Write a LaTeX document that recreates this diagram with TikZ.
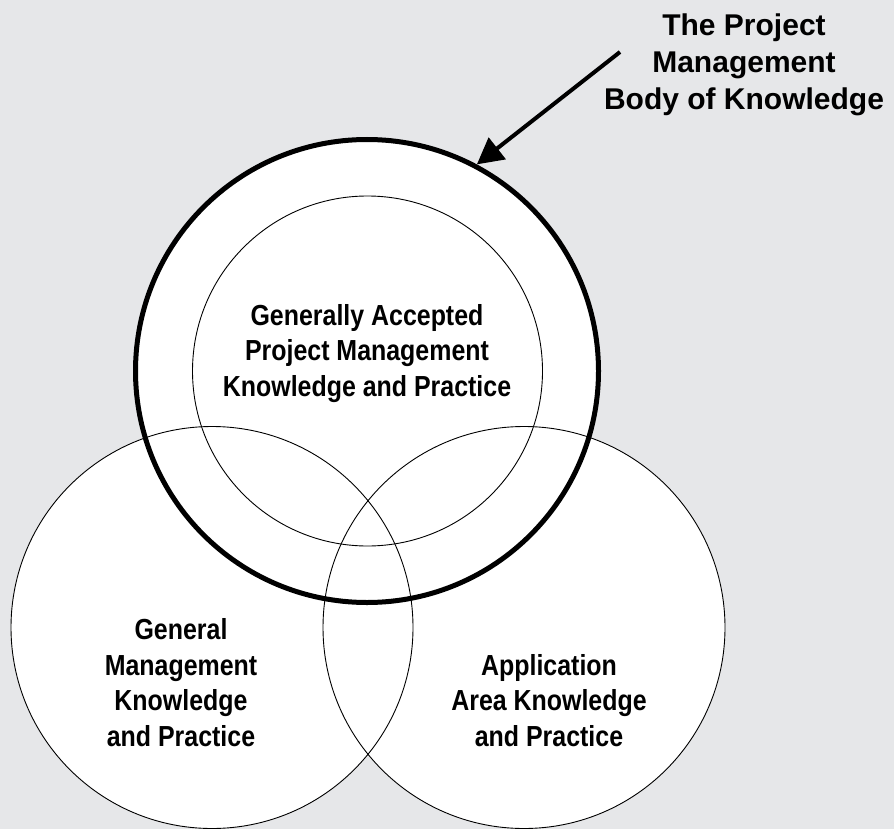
\documentclass[tikz,border=0pt]{standalone}
\usepackage{fontspec}
\setmainfont{Liberation Sans}
\newfontfamily\condfont{Liberation Sans Bold}[FakeStretch=0.86]
\newfontfamily\labelfont{Liberation Sans Bold}
\usetikzlibrary{arrows.meta}
\definecolor{bgcol}{HTML}{E6E7E9}
\begin{document}
\begin{tikzpicture}[x=1pt,y=-1pt,
  ring/.style={circle, draw=black, inner sep=0pt, outer sep=0pt, line width=0.9pt},
  bigring/.style={circle, draw=black, inner sep=0pt, line width=5pt},
  condtext/.style={align=center, inner sep=0pt, font=\condfont\fontsize{29}{35.5}\selectfont},
  labeltext/.style={align=center, inner sep=0pt, font=\labelfont\fontsize{30}{37}\selectfont},
  pointer/.style={line width=4pt, -{Triangle[length=26pt,width=27pt]}}]
\fill[bgcol] (0,0) rectangle (894,829);
\useasboundingbox (0,0) rectangle (894,829);
% white fills
\fill[white] (212,627.5) circle[radius=201];
\fill[white] (524,627.5) circle[radius=201];
\fill[white] (367,371) circle[radius=232];
% outlines
\node[ring, minimum size=402pt] (gm) at (212,627.5) {};
\node[ring, minimum size=402pt] (aa) at (524,627.5) {};
\node[ring, minimum size=350pt] (ga) at (367.5,371) {};
\node[bigring, minimum size=463pt] (pmbok) at (367,371) {};
% texts
\node[condtext] (gatext) at (367,353.5) {Generally Accepted\\Project Management\\Knowledge and Practice};
\node[condtext] (gmtext) at (181,682.5) {General\\Management\\Knowledge\\and Practice};
\node[condtext] (aatext) at (549,700.5) {Application\\Area Knowledge\\and Practice};
\node[labeltext] (label) at (744,65) {The Project\\Management\\Body of Knowledge};
% arrow
\coordinate (arrowstart) at (620,52);
\draw[pointer] (arrowstart) -- (pmbok.62);
\end{tikzpicture}
\end{document}
